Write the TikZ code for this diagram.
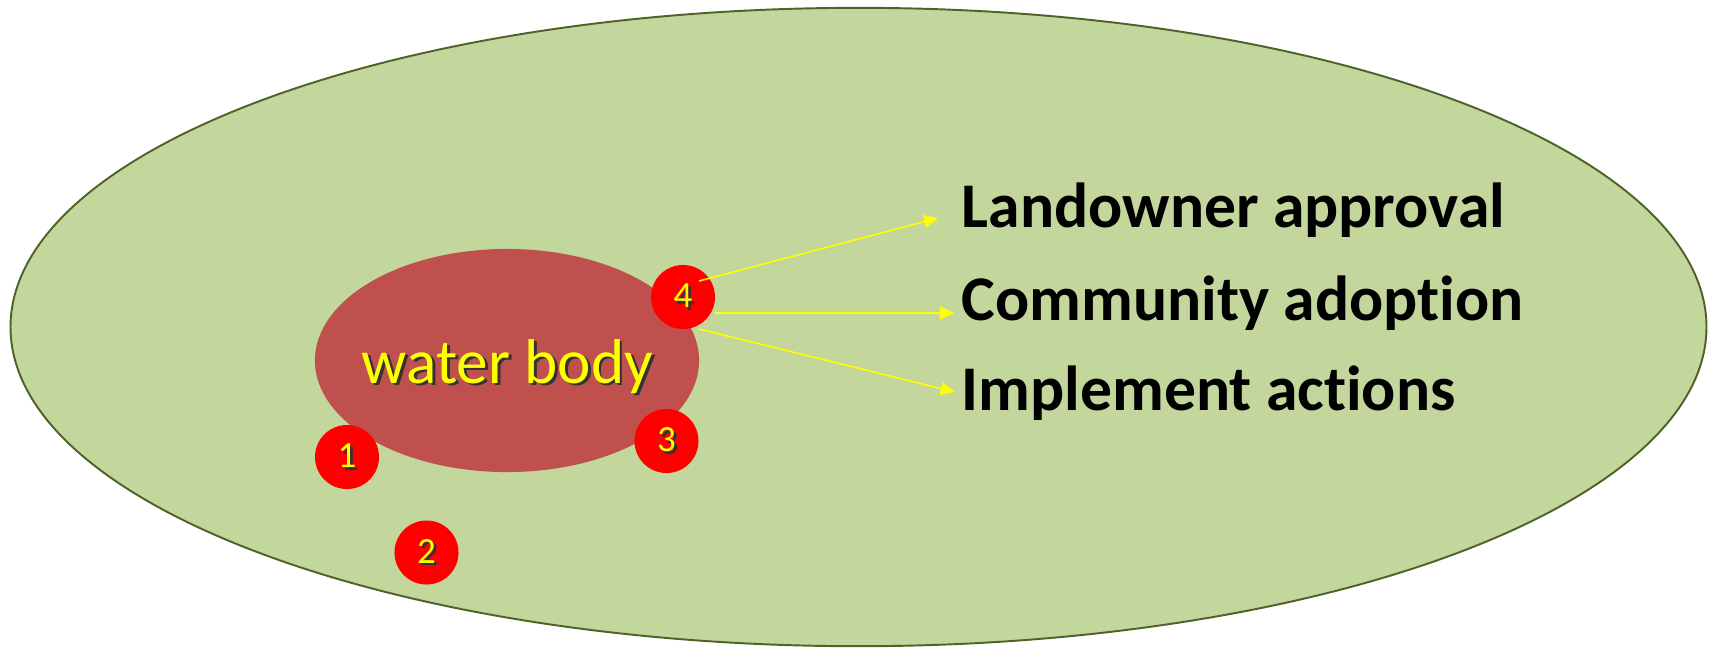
\documentclass[tikz,border=0pt]{standalone}
\usepackage{fontspec}
\setmainfont{Carlito}[Ligatures={NoCommon,NoRequired,NoContextual}]
\usetikzlibrary{shapes.geometric,arrows.meta}
\definecolor{fieldgreen}{HTML}{C3D69B}
\definecolor{fieldline}{HTML}{4F6228}
\definecolor{waterred}{HTML}{C0504D}
\definecolor{markerred}{HTML}{FF0000}
\definecolor{ylw}{HTML}{FFFF00}
\newcommand\shadowtext[1]{\makebox[0pt][l]{\kern0.8pt\raisebox{-0.8pt}{\textcolor{black!80}{#1}}}#1}
\begin{document}
\begin{tikzpicture}[x=0.01cm,y=-0.01cm,
  field/.style={ellipse, draw=fieldline, fill=fieldgreen, line width=0.55pt, inner sep=0pt,
    minimum width=16.95cm, minimum height=6.38cm},
  water/.style={ellipse, fill=waterred, inner sep=0pt, minimum width=3.84cm, minimum height=2.23cm},
  wtext/.style={text=ylw, font=\fontsize{18}{21}\selectfont, inner sep=0pt},
  marker/.style={circle, fill=markerred, inner sep=0pt, minimum size=0.64cm, text=ylw,
    font=\fontsize{10.5}{12}\selectfont},
  item/.style={font=\bfseries\fontsize{18.1}{22}\selectfont, text=black, inner sep=0pt},
  conn/.style={draw=ylw, line width=0.45pt, -{Triangle[length=0.14cm, width=0.13cm]}}
]
\useasboundingbox (0,0) rectangle (1711,647);
\node[field] (fieldarea) at (858.5,327) {};
\node[water] (waterbody) at (507,360.5) {};
\node[wtext, anchor=base] (wlabel) at (507.5,383) {\shadowtext{water body}};
\node[marker] (m1) at (347,457) {\shadowtext{1}};
\node[marker] (m2) at (426.5,552.5) {\shadowtext{2}};
\node[marker] (m3) at (666.5,441) {\shadowtext{3}};
\node[marker] (m4) at (683,297) {\shadowtext{4}};
\node[item, anchor=base west] (t1) at (961,227) {Landowner approval};
\node[item, anchor=base west] (t2) at (961,320) {Community adopt\kern0pt ion};
\node[item, anchor=base west] (t3) at (961,410) {Implement act\kern0pt ions};
\draw[conn] ([shift={(16,-16)}]m4.center) -- ([shift={(-23,-9)}]t1.base west);
\draw[conn] ([shift={(32,16)}]m4.center) -- ([shift={(-7,-7)}]t2.base west);
\draw[conn] ([shift={(16,32)}]m4.center) -- ([shift={(-6,-18)}]t3.base west);
\end{tikzpicture}
\end{document}
